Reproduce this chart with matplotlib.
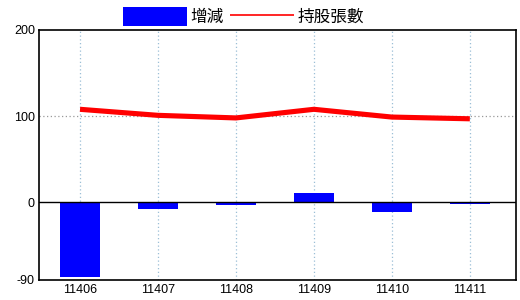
import matplotlib
matplotlib.use("Agg")
import matplotlib.pyplot as plt
import numpy as np

# data
months = ["11406", "11407", "11408", "11409", "11410", "11411"]
change = [-87, -8, -3, 11, -11, -2]          # 增減
holdings = [108, 101, 98, 108, 99, 97]       # 持股張數
yticks = [200, 100, 0, -90]

plt.rcParams['font.family'] = ['Liberation Sans', 'Noto Sans CJK TC', 'DejaVu Sans']

fig = plt.figure(figsize=(5.2, 3.0), dpi=100)
ax = fig.add_axes([0.075, 0.0667, 0.917, 0.8333])

x = np.arange(len(months))
bars = ax.bar(x, change, width=0.51, color='#0000ff', label='增減', zorder=2)
line, = ax.plot(x, holdings, color='#ff0000', lw=3.7, solid_capstyle='butt',
                label='持股張數', zorder=3)

ax.set_xlim(-0.526, 5.59)
ax.set_ylim(-90, 200)
ax.set_xticks(x, months)
ax.set_yticks(yticks, [str(v) for v in yticks])
ax.tick_params(length=0, labelsize=9, pad=3)

# grid: light blue dotted verticals, grey dotted at 100, solid black at 0
for xi in x:
    ax.axvline(xi, color='#9bbfd6', lw=0.9, ls=(0, (1, 2)), zorder=1)
ax.axhline(100, color='#999999', lw=0.9, ls=(0, (1, 2)), zorder=1)
ax.axhline(0, color='black', lw=1.0, zorder=2.5)

for s in ax.spines.values():
    s.set_linewidth(1.2)

leg = fig.legend(handles=[bars, line], labels=['增減', '持股張數'],
                 loc='upper left', bbox_to_anchor=(0.208, 1.025), ncol=2,
                 frameon=False, handlelength=3.85, handleheight=1.3,
                 handletextpad=0.2, columnspacing=0.36,
                 prop={'family': ['Noto Sans CJK TC', 'DejaVu Sans'], 'size': 12})
for l in leg.get_lines():
    l.set_linewidth(1.2)

fig.savefig('out.png', dpi=100)
